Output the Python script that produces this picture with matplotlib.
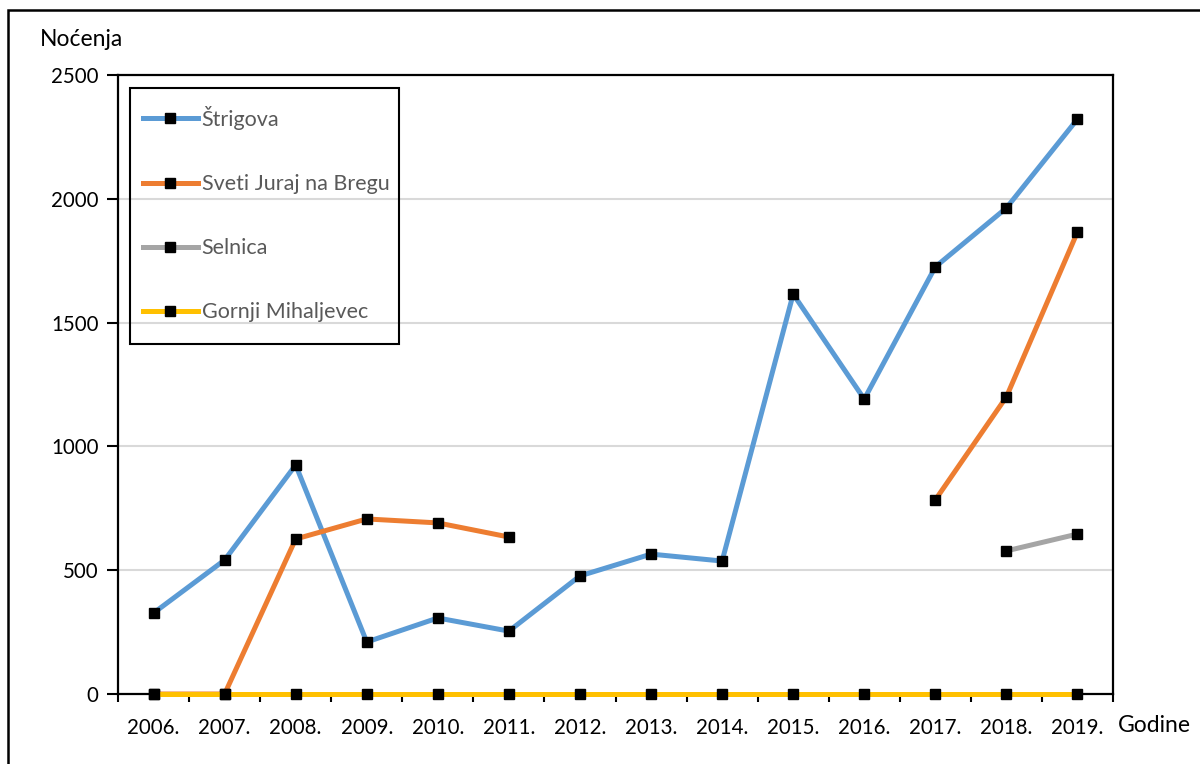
import numpy as np
import matplotlib.pyplot as plt
from matplotlib.patches import Rectangle

plt.rcParams['font.family'] = ['Lato', 'DejaVu Sans']

# Data
years = ['2006.', '2007.', '2008.', '2009.', '2010.', '2011.', '2012.',
         '2013.', '2014.', '2015.', '2016.', '2017.', '2018.', '2019.']
nan = np.nan
strigova = [327, 541, 925, 210, 307, 254, 477, 565, 537, 1615, 1191, 1725, 1963, 2322]
sveti_juraj = [0, 0, 626, 707, 691, 634, nan, nan, nan, nan, nan, 784, 1200, 1866]
selnica = [nan, nan, nan, nan, nan, nan, nan, nan, nan, nan, nan, nan, 578, 646]
gornji = [0, 0, 0, 0, 0, 0, 0, 0, 0, 0, 0, 0, 0, 0]

series = [
    ('Štrigova', strigova, '#5b9bd5'),
    ('Sveti Juraj na Bregu', sveti_juraj, '#ed7d31'),
    ('Selnica', selnica, '#a5a5a5'),
    ('Gornji Mihaljevec', gornji, '#ffc000'),
]

W, H = 1200, 764
fig = plt.figure(figsize=(W/100, H/100), dpi=100)
ax = fig.add_axes([118/W, 1-694/H, 995/W, 619/H])

x = np.arange(len(years))
for name, vals, col in series:
    ax.plot(x, vals, color=col, lw=3.6, marker='s', ms=6.5,
            mfc='black', mec='black', label=name, clip_on=False, zorder=3)

ax.set_xlim(-0.5, len(years) - 0.5)
ax.set_ylim(0, 2500)
ax.set_yticks(np.arange(0, 2501, 500))
ax.set_xticks(x)
ax.set_xticklabels(years)
ax.set_xticks(np.arange(-0.5, len(years)), minor=True)
ax.tick_params(axis='x', which='major', length=0, pad=17, labelsize=14.8)
ax.tick_params(axis='x', which='minor', length=6, width=1.5, direction='out')
ax.tick_params(axis='y', length=8, width=1.5, pad=6, labelsize=14.8)
ax.grid(axis='y', color='#d9d9d9', lw=1.5, zorder=0)
ax.set_axisbelow(True)
for s in ax.spines.values():
    s.set_linewidth(1.6)
    s.set_color('black')

fig.text(40/W, 1-40/H, 'Noćenja', fontsize=16.5, va='center', ha='left')
fig.text(1118/W, 1-725/H, 'Godine', fontsize=16.5, va='center', ha='left')

# legend without its own frame; the box is drawn separately
leg = ax.legend(loc='upper left', bbox_to_anchor=(143/W, 1-106/H),
                bbox_transform=fig.transFigure, fontsize=15.5,
                frameon=False, handlelength=2.55, handletextpad=0.18,
                labelspacing=2.05, borderpad=0, borderaxespad=0,
                labelcolor='#595959')
fig.patches.append(Rectangle((130/W, 1-344/H), 269/W, 256/H,
                             transform=fig.transFigure, fill=False,
                             edgecolor='black', lw=1.5, zorder=5))

# outer chart border
fig.patches.append(Rectangle((8/W, -0.1), 2, 1 - 10/H + 0.1,
                             transform=fig.transFigure, fill=False,
                             edgecolor='black', lw=1.8))

fig.savefig('out.png', dpi=100)
